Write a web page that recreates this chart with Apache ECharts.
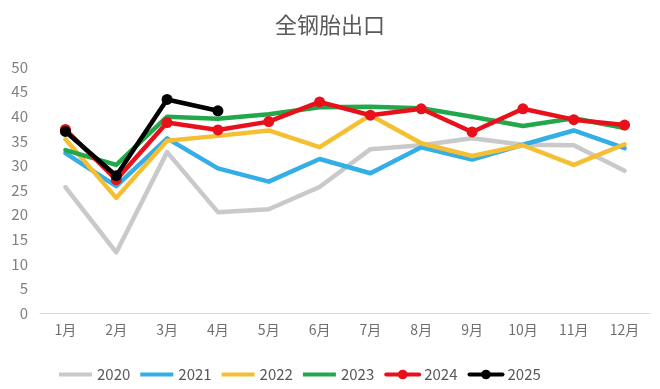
<!DOCTYPE html>
<html><head><meta charset="utf-8">
<script src="https://cdn.jsdelivr.net/npm/echarts@6/dist/echarts.min.js"></script>
<style>html,body{margin:0;padding:0;background:#fff}#c{width:660px;height:389px}</style>
</head><body><div id="c"></div>
<script>
const categories = ['1月','2月','3月','4月','5月','6月','7月','8月','9月','10月','11月','12月'];
const s2020 = [25.6, 12.3, 32.7, 20.5, 21.1, 25.6, 33.3, 34.1, 35.5, 34.2, 34.1, 28.9];
const s2021 = [32.5, 25.8, 35.5, 29.4, 26.7, 31.3, 28.4, 33.7, 31.2, 34.2, 37.1, 33.5];
const s2022 = [35.3, 23.4, 35.0, 36.0, 37.1, 33.7, 40.2, 34.5, 31.9, 34.1, 30.1, 34.3];
const s2023 = [33.1, 30.1, 39.9, 39.5, 40.4, 41.8, 41.9, 41.6, 39.9, 38.0, 39.6, 37.6];
const s2024 = [37.3, 27.1, 38.7, 37.2, 38.9, 42.9, 40.2, 41.5, 36.8, 41.5, 39.3, 38.2];
const s2025 = [36.9, 27.9, 43.4, 41.1];
const yTicks = [0,5,10,15,20,25,30,35,40,45,50];

const font = '"Noto Sans CJK JP","Noto Sans CJK SC",sans-serif';
const barIcon = 'path://M0,0 M0,4 L33,4 L33,8 L0,8 Z M33,12';
function line(name, data, color, marker, z) {
  return {
    name, type: 'line', data, z,
    symbol: marker ? 'circle' : 'none',
    symbolSize: 11,
    showSymbol: !!marker,
    itemStyle: {color},
    lineStyle: {color, width: 4.5, cap:'round', join:'round'},
    emphasis: {disabled: true}
  };
}
const chart = echarts.init(document.getElementById('c'), null, {renderer:'canvas'});
chart.setOption({
  animation: false,
  backgroundColor: '#fff',
  textStyle: {fontFamily: font},
  title: {
    text: '全钢胎出口', left: 'center', top: 9,
    textStyle: {fontFamily: font, fontSize: 22, fontWeight: 'normal', color: '#595959'}
  },
  grid: {left: 40, right: 10, top: 67, bottom: 76, containLabel: false},
  legend: {
    left: 54, top: 362, itemWidth: 33, itemHeight: 12, itemGap: 10,
    textStyle: {fontFamily: font, fontSize: 15, color: '#595959'},
    lineStyle: {width: 4},
    data: [
      {name:'2020', icon: barIcon},
      {name:'2021', icon: barIcon},
      {name:'2022', icon: barIcon},
      {name:'2023', icon: barIcon},
      {name:'2024'},
      {name:'2025'}
    ]
  },
  xAxis: {
    type: 'category', data: categories, boundaryGap: true,
    axisLine: {lineStyle: {color: '#d9d9d9', width: 1}},
    axisTick: {show: false},
    axisLabel: {fontFamily: font, fontSize: 14, color: '#6f6f6f', margin: 10}
  },
  yAxis: {
    type: 'value', min: yTicks[0], max: yTicks[yTicks.length-1], interval: 5,
    axisLine: {show: false}, axisTick: {show: false},
    splitLine: {show: false},
    axisLabel: {fontFamily: font, fontSize: 15, color: '#7f7f7f', margin: 12}
  },
  series: [
    line('2020', s2020, '#c9c9c9', false, 1),
    line('2021', s2021, '#33aee6', false, 2),
    line('2022', s2022, '#f5bf33', false, 3),
    line('2023', s2023, '#22a84a', false, 4),
    line('2024', s2024, '#e8101a', true, 5),
    line('2025', s2025, '#000000', true, 6)
  ]
});
</script></body></html>
